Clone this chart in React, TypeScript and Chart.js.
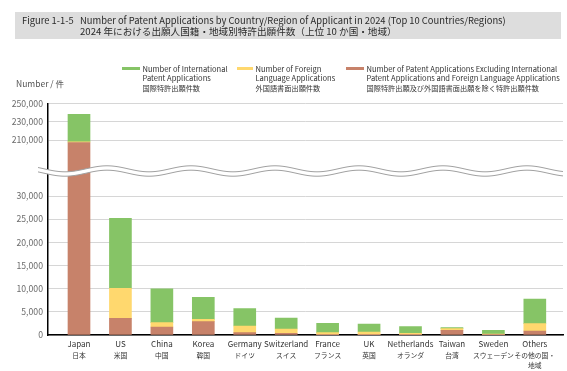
import React, { useEffect, useRef } from 'react';
import { Chart, registerables, LinearScale } from 'chart.js';

Chart.register(...registerables);

// ---- data ----
const categories = ['Japan', 'US', 'China', 'Korea', 'Germany', 'Switzerland', 'France', 'UK', 'Netherlands', 'Taiwan', 'Sweden', 'Others'];
const categoriesJa = [['日本'], ['米国'], ['中国'], ['韓国'], ['ドイツ'], ['スイス'], ['フランス'], ['英国'], ['オランダ'], ['台湾'], ['スウェーデン'], ['その他の国・', '地域']];
const excludingValues = [207500, 3600, 1730, 2880, 500, 360, 60, 80, 80, 1010, 30, 860];
const foreignValues = [800, 6480, 940, 500, 1440, 940, 440, 560, 280, 360, 150, 1580];
const internationalValues = [29800, 15100, 7270, 4750, 3740, 2370, 2020, 1730, 1440, 220, 830, 5330];
const yTickValues = [0, 5000, 10000, 15000, 20000, 25000, 30000, 210000, 230000, 250000];
const yMax = 250000;
// broken axis: lower segment 0..lowerMax, upper segment upperMin..yMax
const lowerMax = 35400;
const upperMin = 176600;
const upperRatio = 0.1991;

const legendItems = [
  { color: '#86c466', lines: ['Number of International', 'Patent Applications'], ja: '国際特許出願件数' },
  { color: '#ffd86e', lines: ['Number of Foreign', 'Language Applications'], ja: '外国語書面出願件数' },
  { color: '#c7826a', lines: ['Number of Patent Applications Excluding International', 'Patent Applications and Foreign Language Applications'], ja: '国際特許出願及び外国語書面出願を除く特許出願件数' },
];
const titleLabel = 'Figure 1-1-5';
const titleEn = 'Number of Patent Applications by Country/Region of Applicant in 2024 (Top 10 Countries/Regions)';
const titleJa = '2024 年における出願人国籍・地域別特許出願件数（上位 10 か国・地域）';
const yUnit = 'Number / 件';

const toU = (v: number) => (v <= lowerMax ? v : lowerMax + (Math.max(v, upperMin) - upperMin) * upperRatio);
const fromU = (u: number) => (u <= lowerMax ? u : upperMin + (u - lowerMax) / upperRatio);

class BrokenLinearScale extends (LinearScale as any) {
  static id = 'brokenLinear';
  static defaults = (LinearScale as any).defaults;
  determineDataLimits() {
    this.min = 0;
    this.max = toU(yMax);
  }
  buildTicks() {
    return yTickValues.map((v) => ({ value: v }));
  }
  getPixelForValue(v: number) {
    return super.getPixelForValue(toU(v));
  }
  getValueForPixel(p: number) {
    return fromU(super.getValueForPixel(p));
  }
}
Chart.register(BrokenLinearScale as any);

const FONT = "'Noto Sans CJK JP', 'Noto Sans', sans-serif";

const decorPlugin = {
  id: 'decor',
  afterDraw(chart: any) {
    const ctx = chart.ctx as CanvasRenderingContext2D;
    const xs = chart.scales.x;
    const ys = chart.scales.y;
    const area = chart.chartArea;
    ctx.save();

    // axis break wave
    const yc = ys.getPixelForValue(lowerMax);
    const A = 3, P = 84;
    const x0 = 38, x1 = area.right;
    const wy = (x: number, off: number) => yc + off - A * Math.cos((2 * Math.PI * (x - 527)) / P);
    ctx.beginPath();
    for (let x = x0; x <= x1; x++) ctx.lineTo(x, wy(x, -2.2));
    for (let x = x1; x >= x0; x--) ctx.lineTo(x, wy(x, 2.2));
    ctx.closePath();
    ctx.fillStyle = '#ffffff';
    ctx.fill();
    ctx.strokeStyle = '#a0a0a0';
    ctx.lineWidth = 1;
    [-2.2, 2.2].forEach((off) => {
      ctx.beginPath();
      for (let x = x0; x <= x1; x++) ctx.lineTo(x, wy(x, off));
      ctx.stroke();
    });

    // title box
    ctx.fillStyle = '#dddddd';
    ctx.fillRect(15, 12, 546, 27);
    ctx.fillStyle = '#2a2a2a';
    ctx.textBaseline = 'middle';
    ctx.textAlign = 'left';
    ctx.font = `9.4px ${FONT}`;
    ctx.fillText(titleLabel, 22, 20.7);
    ctx.fillText(titleEn, 80, 20.7);
    ctx.font = `9.6px ${FONT}`;
    ctx.fillText(titleJa, 80, 31.7);

    // legend
    const legendX = [122, 237, 346];
    legendItems.forEach((it, i) => {
      const lx = legendX[i];
      const sw = i === 1 ? 16 : 18;
      ctx.fillStyle = it.color;
      ctx.fillRect(lx, 67, sw, 3);
      ctx.fillStyle = '#333333';
      ctx.font = `7.55px ${FONT}`;
      const tx = lx + sw + 2.5;
      it.lines.forEach((l, j) => ctx.fillText(l, tx, 69 + j * 9.5));
      ctx.font = `7.2px ${FONT}`;
      ctx.fillText(it.ja, tx, 88.3);
    });

    // y unit
    ctx.fillStyle = '#555555';
    ctx.font = `8.5px ${FONT}`;
    ctx.fillText(yUnit, 16, 84);

    // x labels
    ctx.textAlign = 'center';
    ctx.fillStyle = '#333333';
    categories.forEach((c, i) => {
      const px = xs.getPixelForValue(i);
      ctx.font = `8px ${FONT}`;
      ctx.fillText(c, px, 344.2);
      ctx.font = `6.8px ${FONT}`;
      categoriesJa[i].forEach((l, j) => ctx.fillText(l, px, 355 + j * 10.3));
    });
    ctx.restore();
  },
};

export default function App() {
  const ref = useRef<HTMLCanvasElement>(null);
  useEffect(() => {
    if (!ref.current) return;
    const mk = (vals: number[]) => vals.map((v, i) => ({ x: i, y: v }));
    const chart = new Chart(ref.current, {
      type: 'bar',
      data: {
        datasets: [
          { label: legendItems[2].lines.join(' '), data: mk(excludingValues), backgroundColor: legendItems[2].color, barThickness: 22, borderWidth: 0 },
          { label: legendItems[1].lines.join(' '), data: mk(foreignValues), backgroundColor: legendItems[1].color, barThickness: 22, borderWidth: 0 },
          { label: legendItems[0].lines.join(' '), data: mk(internationalValues), backgroundColor: legendItems[0].color, barThickness: 22, borderWidth: 0 },
        ],
      } as any,
      options: {
        responsive: false,
        animation: false,
        devicePixelRatio: 1,
        layout: { padding: { top: 103.3, right: 4, left: 0, bottom: 0 } },
        plugins: { legend: { display: false }, tooltip: { enabled: false }, title: { display: false } },
        scales: {
          x: {
            type: 'linear',
            min: -0.748,
            max: 11.68,
            stacked: true,
            offset: false,
            afterBuildTicks: (s: any) => { s.ticks = categories.map((_, i) => ({ value: i })); },
            afterFit: (s: any) => { s.height = 36; },
            grid: { display: false, drawTicks: false },
            border: { display: true, color: '#000000', width: 1.5 },
            ticks: { display: false },
          },
          y: {
            type: 'brokenLinear',
            stacked: true,
            afterFit: (s: any) => { s.width = 48; },
            grid: { color: '#d6d6d6', lineWidth: 1, drawTicks: false },
            border: { display: true, color: '#000000', width: 1.5 },
            ticks: {
              autoSkip: false,
              padding: 5,
              color: '#6b6b6b',
              font: { family: FONT, size: 8.7 },
              callback: (v: any) => Number(v).toLocaleString('en-US'),
            },
          },
        } as any,
      },
      plugins: [decorPlugin],
    });
    return () => chart.destroy();
  }, []);
  return (
    <div style={{ position: 'fixed', left: 0, top: 0, width: 567, height: 371, background: '#fff' }}>
      <canvas ref={ref} width={567} height={371} style={{ display: 'block' }} />
    </div>
  );
}
